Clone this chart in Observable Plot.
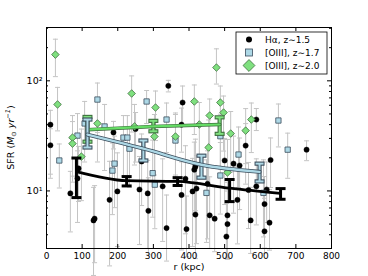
<!DOCTYPE html>
<html><head><meta charset="utf-8">
<script src="https://cdn.jsdelivr.net/npm/d3@7"></script>
<script src="https://cdn.jsdelivr.net/npm/@observablehq/plot@0.6"></script>
<style>
body{margin:0;background:#fff;}
#chart svg{font-family:"DejaVu Sans",sans-serif;}
</style>
</head><body><div id="chart"></div>
<script>
// ---- Hα, z~1.5 (individual galaxies) ----
const haR   = [11, 11, 67, 90, 87, 132, 135, 177, 199, 188, 250, 261, 284, 286, 337, 326, 379, 393, 410, 418, 458, 472, 508, 508, 505, 342, 382, 379, 267, 418, 500, 525, 542, 452, 415, 536, 567, 589, 618, 612, 629, 559, 589, 730, 573, 612, 626, 390, 421];
const haSFR = [40, 26, 9.5, 16, 13, 5.4, 5.6, 8.3, 9.9, 34, 36.5, 10.3, 9.5, 6.6, 4.6, 11, 9.2, 4.5, 9.9, 6.1, 6.0, 5.6, 6.0, 5.0, 3.85, 90, 63.5, 40, 18.5, 16.6, 18.9, 17.7, 17, 11.6, 15.6, 8.3, 10.2, 11, 10.3, 7.6, 19.1, 25.8, 44.5, 23.7, 5.4, 4.3, 5.15, 12.9, 10.5];
const haUp  = [0.13, 0.15, 0.2, 0.2, 0.25, 0.3, 0.3, 0.35, 0.35, 0.1, 0.15, 0.3, 0.3, 0.3, 0.3, 0.25, 0.3, 0.3, 0.3, 0.3, 0.35, 0.3, 0.3, 0.3, 0.3, 0.05, 0.15, 0.15, 0.25, 0.25, 0.2, 0.25, 0.25, 0.3, 0.25, 0.3, 0.25, 0.25, 0.25, 0.25, 0.2, 0.2, 0.1, 0.08, 0.3, 0.3, 0.3, 0.3, 0.3];
const haDn  = [0.45, 0.3, 0.35, 0.3, 0.4, 0.5, 0.4, 0.6, 0.5, 0.15, 0.3, 0.5, 0.5, 0.4, 0.3, 0.5, 0.5, 0.25, 0.5, 0.4, 0.3, 0.3, 0.4, 0.3, 0.2, 0.055, 0.2, 0.25, 0.4, 0.4, 0.4, 0.45, 0.4, 0.5, 0.4, 0.4, 0.35, 0.35, 0.3, 0.4, 0.25, 0.35, 0.1, 0.1, 0.3, 0.2, 0.25, 0.5, 0.5];

// ---- [OIII], z~1.7 ----
const o3aR   = [36, 87, 107, 143, 163, 216, 227, 233, 191, 185, 281, 337, 488, 539, 488, 449, 609, 677, 651, 298, 362, 304];
const o3aSFR = [18.9, 31.8, 41, 67.6, 38.5, 30.5, 30.5, 24.2, 17.7, 15.3, 64.9, 44.5, 31.4, 21.4, 13.8, 9.6, 9.6, 23.7, 43.6, 14.5, 28.7, 11.4];
const o3aUp  = [0.15, 0.2, 0.2, 0.15, 0.2, 0.2, 0.2, 0.2, 0.25, 0.25, 0.1, 0.15, 0.2, 0.25, 0.3, 0.3, 0.3, 0.15, 0.15, 0.3, 0.25, 0.3];
const o3aDn  = [0.25, 0.35, 0.35, 0.3, 0.4, 0.35, 0.4, 0.35, 0.4, 0.4, 0.2, 0.3, 0.3, 0.3, 0.35, 0.45, 0.4, 0.26, 0.24, 0.4, 0.35, 0.4];

// ---- [OIII], z~2.0 ----
const o3bR   = [25, 31, 73, 73, 98, 143, 239, 247, 306, 303, 362, 477, 415, 488, 458, 497, 429, 575, 517, 559, 455, 508];
const o3bSFR = [173, 61, 30.5, 26.9, 20.5, 41, 76.7, 38.5, 57.2, 31.2, 31.2, 132, 64.9, 63.5, 48.4, 51.5, 40.1, 44.5, 33.2, 35.3, 24.8, 14.7];
const o3bUp  = [0.14, 0.155, 0.2, 0.2, 0.25, 0.2, 0.16, 0.2, 0.15, 0.2, 0.2, 0.17, 0.15, 0.15, 0.15, 0.15, 0.2, 0.15, 0.2, 0.2, 0.25, 0.3];
const o3bDn  = [0.2, 0.24, 0.35, 0.35, 0.4, 0.35, 0.35, 0.35, 0.3, 0.35, 0.35, 0.15, 0.3, 0.3, 0.3, 0.35, 0.35, 0.3, 0.35, 0.3, 0.35, 0.4];

// ---- binned means ----
const haBinR   = [84, 225, 368, 514, 657];
const haBinSFR = [15.0, 12.4, 12.2, 10.6, 9.5];
const haBinLo  = [8.7, 11.1, 11.2, 8.0, 8.4];
const haBinHi  = [19.9, 13.5, 13.2, 12.7, 10.5];

const o3aBinR   = [115, 272, 435, 598];
const o3aBinSFR = [32.5, 24.2, 17.3, 14.9];
const o3aBinLo  = [24.8, 18.9, 13.2, 12.2];
const o3aBinHi  = [44.5, 28.7, 20.9, 17.7];

const o3bBinR   = [115, 300, 486];
const o3bBinSFR = [36.0, 38.5, 40.1];
const o3bBinLo  = [28.0, 34.8, 33.0];
const o3bBinHi  = [47.0, 43.3, 46.6];

// ---- axes ----
const xTicks  = [0, 100, 200, 300, 400, 500, 600, 700, 800];
const yMajor  = [10, 100];
const yMinor  = [3, 4, 5, 6, 7, 8, 9, 20, 30, 40, 50, 60, 70, 80, 90, 200, 300];
const yLabels = {10: "10¹", 100: "10²"};
const legendLabels = ["Hα, z∼1.5", "[OIII], z∼1.7", "[OIII], z∼2.0"];

const pts = (R, S, U, D) => R.map((r, i) => ({r, s: S[i], lo: S[i] / Math.pow(10, D[i]), hi: S[i] * Math.pow(10, U[i])}));
const bins = (R, S, L, H) => R.map((r, i) => ({r, s: S[i], lo: L[i], hi: H[i]}));
const ha = pts(haR, haSFR, haUp, haDn);
const o3a = pts(o3aR, o3aSFR, o3aUp, o3aDn);
const o3b = pts(o3bR, o3bSFR, o3bUp, o3bDn);
const haB = bins(haBinR, haBinSFR, haBinLo, haBinHi);
const o3aB = bins(o3aBinR, o3aBinSFR, o3aBinLo, o3aBinHi);
const o3bB = bins(o3bBinR, o3bBinSFR, o3bBinLo, o3bBinHi);

const W = 368, H = 276, mL = 46, mR = 37, mT = 27, mB = 28;
const iW = W - mL - mR, iH = H - mT - mB;

const cap = w => ({draw(ctx) { ctx.moveTo(-w, 0); ctx.lineTo(w, 0); }});
const grayErr = d => [
  Plot.ruleX(d, {x: "r", y1: "lo", y2: "hi", stroke: "#c4c4c4", strokeWidth: 1}),
  Plot.dot(d, {x: "r", y: "hi", symbol: cap(2.5), fill: "none", stroke: "#c4c4c4", strokeWidth: 1}),
  Plot.dot(d, {x: "r", y: "lo", symbol: cap(2.5), fill: "none", stroke: "#c4c4c4", strokeWidth: 1})
];
const binErr = (d, stroke, width, capW) => [
  Plot.ruleX(d, {x: "r", y1: "lo", y2: "hi", stroke, strokeWidth: width}),
  Plot.dot(d, {x: "r", y: "hi", symbol: cap(capW), fill: "none", stroke, strokeWidth: width}),
  Plot.dot(d, {x: "r", y: "lo", symbol: cap(capW), fill: "none", stroke, strokeWidth: width})
];

const blueFill = "#add8e6", blueEdge = "#3b4d5c";
const greenFill = "#7fe07f", greenEdge = "#3d6e3d";

const chart = Plot.plot({
  width: W, height: H,
  marginLeft: mL, marginRight: mR, marginTop: mT, marginBottom: mB,
  style: {fontSize: "9px", fontFamily: "DejaVu Sans, sans-serif", background: "#fff"},
  x: {domain: [0, 800]},
  y: {type: "log", domain: [3, 305]},
  marks: [
    ...grayErr(ha), ...grayErr(o3a), ...grayErr(o3b),
    Plot.dot(ha, {x: "r", y: "s", r: 2.6, fill: "black", stroke: "black", strokeWidth: 0.5}),
    Plot.dot(o3a, {x: "r", y: "s", symbol: "square", r: 3.0, fill: blueFill, stroke: blueEdge, strokeWidth: 0.8}),
    Plot.dot(o3b, {x: "r", y: "s", symbol: "diamond2", r: 3.4, fill: greenFill, stroke: greenEdge, strokeWidth: 0.8}),
    // green binned
    ...binErr(o3bB, greenEdge, 4.2, 5),
    ...binErr(o3bB, greenFill, 2.0, 4),
    Plot.line(o3bB, {x: "r", y: "s", stroke: greenEdge, strokeWidth: 3.6}),
    Plot.line(o3bB, {x: "r", y: "s", stroke: "#66dd66", strokeWidth: 2.2}),
    // blue binned
    ...binErr(o3aB, blueEdge, 4.2, 5),
    ...binErr(o3aB, blueFill, 2.0, 4),
    Plot.line(o3aB, {x: "r", y: "s", stroke: blueEdge, strokeWidth: 4, curve: "monotone-x"}),
    Plot.line(o3aB, {x: "r", y: "s", stroke: blueFill, strokeWidth: 2.4, curve: "monotone-x"}),
    // black binned
    ...binErr(haB, "black", 3, 5),
    Plot.line(haB, {x: "r", y: "s", stroke: "black", strokeWidth: 2.8, curve: "monotone-x"}),
    // inward ticks
    Plot.tickX(xTicks, {x: d => d, insetTop: iH - 4, stroke: "black"}),
    Plot.tickX(xTicks, {x: d => d, insetBottom: iH - 4, stroke: "black"}),
    Plot.tickY(yMajor, {y: d => d, insetRight: iW - 4, stroke: "black"}),
    Plot.tickY(yMajor, {y: d => d, insetLeft: iW - 4, stroke: "black"}),
    Plot.tickY(yMinor, {y: d => d, insetRight: iW - 2, stroke: "black"}),
    Plot.tickY(yMinor, {y: d => d, insetLeft: iW - 2, stroke: "black"}),
    Plot.axisX(xTicks, {tickSize: 0, tickPadding: 4, label: null, fontSize: 9}),
    Plot.axisY(yMajor, {tickSize: 0, tickPadding: 4, label: null, tickFormat: d => yLabels[d], fontSize: 9.5}),
    Plot.text(["r (kpc)"], {frameAnchor: "bottom", dy: 21, fontSize: 9.5, fill: "black"}),
    Plot.frame({stroke: "black", strokeWidth: 1})
  ]
});
document.getElementById("chart").appendChild(chart);

// y axis label with math styling
const svg = d3.select(chart);
const yl = svg.append("text")
  .attr("transform", `translate(14,${mT + iH / 2}) rotate(-90)`)
  .attr("text-anchor", "middle").attr("font-size", 9.5).attr("fill", "black");
yl.append("tspan").text("SFR (");
yl.append("tspan").attr("font-style", "italic").text("M");
yl.append("tspan").attr("font-size", 6.5).attr("dy", 2).text("⊙");
yl.append("tspan").attr("dy", -2).text(" ");
yl.append("tspan").attr("font-style", "italic").text("yr");
yl.append("tspan").attr("font-size", 6.5).attr("dy", -4).attr("font-style", "italic").text("−1");
yl.append("tspan").attr("dy", 4).text(")");

// legend
const lg = svg.append("g").attr("text-anchor", "start");
lg.append("rect").attr("x", 236).attr("y", 32).attr("width", 91).attr("height", 42)
  .attr("fill", "white").attr("stroke", "black").attr("stroke-width", 0.8);
const rows = [39.5, 52.5, 65.5];
lg.append("circle").attr("cx", 249).attr("cy", rows[0]).attr("r", 3).attr("fill", "black");
lg.append("rect").attr("x", 245.5).attr("y", rows[1] - 3.5).attr("width", 7).attr("height", 7)
  .attr("fill", blueFill).attr("stroke", blueEdge).attr("stroke-width", 0.8);
lg.append("path").attr("d", d3.symbol(d3.symbolDiamond2, 90)()).attr("transform", `translate(249,${rows[2]})`)
  .attr("fill", greenFill).attr("stroke", greenEdge).attr("stroke-width", 0.8);
legendLabels.forEach((t, i) => {
  lg.append("text").attr("x", 265).attr("y", rows[i]).attr("dy", "0.35em")
    .attr("text-anchor", "start").attr("font-size", 9).attr("fill", "black").text(t);
});
</script>
</body></html>
